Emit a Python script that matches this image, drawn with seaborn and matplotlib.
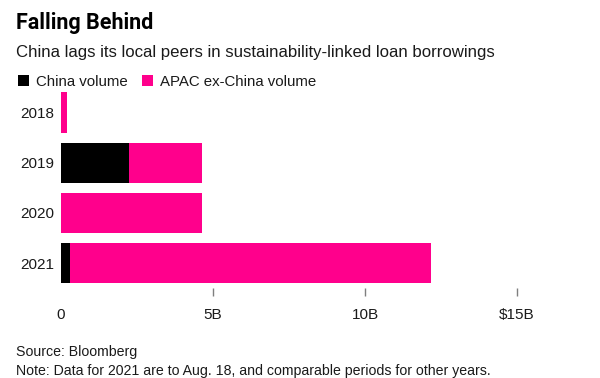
import matplotlib
matplotlib.use("Agg")
import matplotlib.pyplot as plt
from matplotlib.patches import Patch
import seaborn as sns
import pandas as pd

years = ["2018", "2019", "2020", "2021"]
china_volume = [0.0, 2.24, 0.0, 0.28]
apac_ex_china_volume = [0.21, 2.40, 4.64, 11.89]
x_ticks = [0, 5, 10, 15]
x_tick_labels = ["0", "5B", "10B", "$15B"]

PINK = "#ff008c"
BLACK = "#000000"

sns.set_theme(style="white")
plt.rcParams["font.family"] = ["Liberation Sans", "DejaVu Sans"]

df = pd.DataFrame({
    "year": years,
    "china": china_volume,
    "apac": apac_ex_china_volume,
})
df["total"] = df["china"] + df["apac"]

fig = plt.figure(figsize=(6.0, 3.78), dpi=100)
ax = fig.add_axes([61 / 600, 1 - 288.3 / 378, (590 - 61) / 600, (288.3 - 87.35) / 378])

sns.barplot(data=df, y="year", x="total", color=PINK, orient="h", width=0.8,
            saturation=1, ax=ax, linewidth=0)
sns.barplot(data=df, y="year", x="china", color=BLACK, orient="h", width=0.8,
            saturation=1, ax=ax, linewidth=0)

ax.set_xlim(0, (590 - 61) / 30.4)
ax.set_ylim(3.5, -0.5)
ax.set_xlabel("")
ax.set_ylabel("")
ax.set_xticks(x_ticks)
ax.set_xticklabels(x_tick_labels)
for s in ax.spines.values():
    s.set_visible(False)
ax.tick_params(axis="x", bottom=True, length=6, width=1, color="#7f7f7f",
               pad=8, labelsize=11, labelcolor="#1a1a1a", direction="out")
ax.tick_params(axis="y", left=False, length=0, pad=5, labelsize=11, labelcolor="#1a1a1a")
ax.xaxis.get_major_ticks()[0].tick1line.set_visible(False)
ax.grid(False)

fig.text(16 / 600, 1 - 23 / 378, "Falling Behind", fontsize=15.5, fontweight="bold",
         family=["Roboto", "DejaVu Sans"], color="#000000", va="center", ha="left")
fig.text(16 / 600, 1 - 53 / 378, "China lags its local peers in sustainability-linked loan borrowings",
         fontsize=12.1, color="#1a1a1a", va="center", ha="left")

handles = [Patch(facecolor=BLACK, edgecolor="none", label="China volume"),
           Patch(facecolor=PINK, edgecolor="none", label="APAC ex-China volume")]
fig.legend(handles=handles, loc="center left", bbox_to_anchor=(18 / 600, 1 - 82 / 378),
           ncol=2, frameon=False, fontsize=10.8, handlelength=0.72, handleheight=0.72,
           handletextpad=0.45, columnspacing=1.0, borderpad=0, borderaxespad=0,
           labelcolor="#1a1a1a")

fig.text(16 / 600, 1 - 352 / 378, "Source: Bloomberg", fontsize=10.2, color="#1a1a1a",
         va="center", ha="left")
fig.text(16 / 600, 1 - 371 / 378,
         "Note: Data for 2021 are to Aug. 18, and comparable periods for other years.",
         fontsize=10.2, color="#1a1a1a", va="center", ha="left")

fig.savefig("out.png", dpi=100, facecolor="white")
